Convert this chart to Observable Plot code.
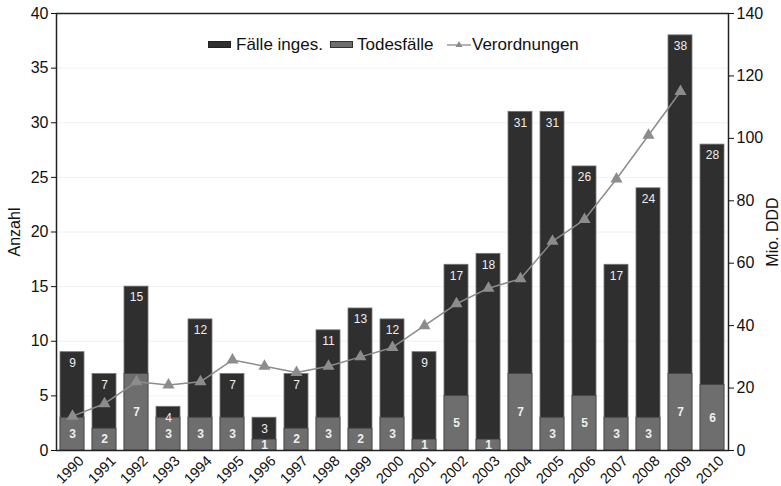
<!DOCTYPE html>
<html><head><meta charset="utf-8">
<script src="https://cdn.jsdelivr.net/npm/d3@7"></script>
<script src="https://cdn.jsdelivr.net/npm/@observablehq/plot@0.6"></script>
<style>
body{margin:0;background:#fff;font-family:"Liberation Sans",Arial,sans-serif;}
#wrap{position:relative;width:781px;height:486px;}
.lg{position:absolute;top:35px;font-size:17px;color:#111;line-height:20px;white-space:nowrap;}
.sw{position:absolute;top:41px;height:7px;width:23px;box-sizing:border-box;}
</style></head>
<body><div id="wrap"><div id="chart"></div>
<div class="sw" style="left:208px;background:#2f2f2f;border:1px solid #222"></div>
<div class="lg" style="left:236px">Fälle inges.</div>
<div class="sw" style="left:330px;background:#6e6e6e;border:1px solid #333"></div>
<div class="lg" style="left:357px">Todesfälle</div>
<svg style="position:absolute;left:446px;top:38px" width="26" height="14"><line x1="1" y1="7" x2="25" y2="7" stroke="#8c8c8c" stroke-width="1.3"/><path d="M13,3 L16.5,9 L9.5,9 Z" fill="#8c8c8c"/></svg>
<div class="lg" style="left:472px">Verordnungen</div>
</div>
<script>
const years = [1990,1991,1992,1993,1994,1995,1996,1997,1998,1999,2000,2001,2002,2003,2004,2005,2006,2007,2008,2009,2010];
const total = [9,7,15,4,12,7,3,7,11,13,12,9,17,18,31,31,26,17,24,38,28];
const deaths = [3,2,7,3,3,3,1,2,3,2,3,1,5,1,7,3,5,3,3,7,6];
const ddd = [11,15,22,21,22,29,27,25,27,30,33,40,47,52,55,67,74,87,101,115,null];
const leftTicks = [0,5,10,15,20,25,30,35,40];
const rightTicks = [0,20,40,60,80,100,120,140];
const k = 40/140;
const data = years.map((y,i)=>({year:String(y), total:total[i], deaths:deaths[i], ddd:ddd[i]}));
const lineData = data.filter(d=>d.ddd!=null);
const chart = Plot.plot({
  width:781, height:486, marginLeft:56, marginRight:53, marginTop:13, marginBottom:36,
  style:{fontFamily:'"Liberation Sans",Arial,sans-serif', fontSize:"16px", color:"#111", background:"#fff", overflow:"visible"},
  x:{type:"band", domain:years.map(String), paddingInner:0.25, paddingOuter:0.1, axis:null},
  y:{domain:[0,40], axis:null},
  marks:[
    Plot.gridY(leftTicks,{stroke:"#e6e6e6", strokeOpacity:0.6}),
    Plot.barY(data,{x:"year", y:"total", fill:"#2f2f2f", stroke:"#777", strokeWidth:0.8}),
    Plot.barY(data,{x:"year", y:"deaths", fill:"#6e6e6e", stroke:"#444", strokeWidth:0.8}),
    Plot.text(data,{x:"year", y:"total", text:"total", dy:11, fill:"#eee", fontSize:12}),
    Plot.text(data,{x:"year", y:d=>d.deaths/2, text:"deaths", fill:"#eee", fontSize:12, fontWeight:"bold"}),
    Plot.line(lineData,{x:"year", y:d=>d.ddd*k, stroke:"#8c8c8c", strokeWidth:1.5}),
    Plot.dot(lineData,{x:"year", y:d=>d.ddd*k, symbol:"triangle", r:4.5, fill:"#8c8c8c"}),
    Plot.frame({stroke:"#222", strokeWidth:1.5}),
    Plot.axisY({ticks:leftTicks, tickSize:5, tickPadding:3, fontSize:16, label:"Anzahl", labelAnchor:"center", labelArrow:"none", labelOffset:48}),
    Plot.axisY({anchor:"right", ticks:rightTicks.map(v=>v*k), tickFormat:d=>String(Math.round(d/k)), tickSize:5, tickPadding:3, fontSize:16, label:"Mio. DDD", labelAnchor:"center", labelArrow:"none", labelOffset:49}),
    Plot.axisX({tickRotate:-45, tickSize:0, tickPadding:4, fontSize:14.5, dx:9, dy:4, label:null})
  ]
});
document.getElementById("chart").appendChild(chart);
</script>
</body></html>
